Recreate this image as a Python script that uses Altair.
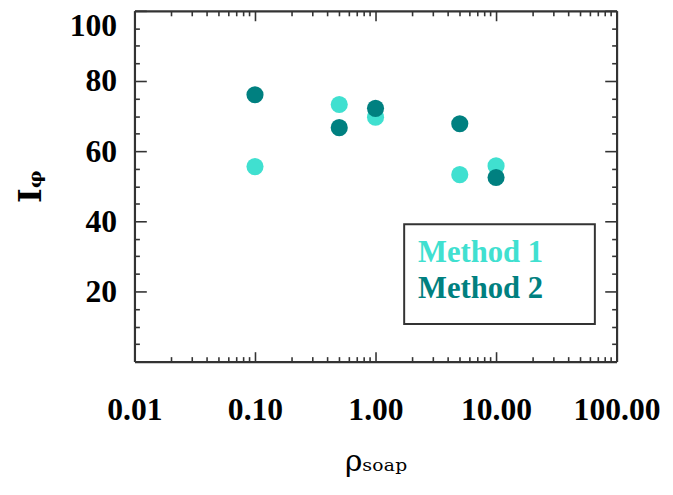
import altair as alt
import pandas as pd

# ---- data ----
rho = [0.1, 0.5, 1.0, 5.0, 10.0]
method1 = [55.6, 73.3, 69.7, 53.3, 55.8]
method2 = [76.1, 66.7, 72.2, 67.8, 52.5]
series = ["Method 1", "Method 2"]
colors = ["#40E0D0", "#008080"]

x_major = [0.01, 0.1, 1, 10, 100]
x_minor = [0.02, 0.03, 0.04, 0.05, 0.06, 0.07, 0.08, 0.09,
           0.2, 0.3, 0.4, 0.5, 0.6, 0.7, 0.8, 0.9,
           2, 3, 4, 5, 6, 7, 8, 9,
           20, 30, 40, 50, 60, 70, 80, 90]
y_major = [20, 40, 60, 80, 100]
y_minor = [5, 10, 15, 25, 30, 35, 45, 50, 55, 65, 70, 75, 85, 90, 95]

rows = []
for r, v in zip(rho, method1):
    rows.append({"rho": r, "I": v, "method": series[0]})
for r, v in zip(rho, method2):
    rows.append({"rho": r, "I": v, "method": series[1]})
df = pd.DataFrame(rows)

W, H = 488, 355
FONT = "Liberation Serif"
xs = alt.Scale(type="log", domain=[0.01, 100])
ys = alt.Scale(domain=[0, 100], nice=False, zero=False)
cs = alt.Scale(domain=series, range=colors)


def tick_axis(orient, offset, values, size, domain):
    return alt.Axis(orient=orient, offset=offset, values=values, tickSize=size,
                    labels=False, domain=domain, domainColor="#333", domainWidth=2.2,
                    grid=False, title=None, tickColor="#333", tickWidth=1.6)


def tick_layer(xa, ya):
    return alt.Chart(df).mark_point(opacity=0).encode(
        x=alt.X("rho:Q", scale=xs, axis=xa),
        y=alt.Y("I:Q", scale=ys, axis=ya),
    )


x_label_axis = alt.Axis(orient="bottom", values=x_major, format=".2f", ticks=False,
                        domain=False, grid=False, labelFont=FONT, labelFontSize=32,
                        labelFontWeight="bold", labelColor="black", labelPadding=34,
                        labelFlush=False, labelOverlap=False,
                        title="ρₛₒₐₚ", titleFont="DejaVu Serif", titleFontSize=30,
                        titleFontWeight="normal", titleColor="black", titlePadding=21)
y_label_axis = alt.Axis(orient="left", values=y_major, format="d", ticks=False,
                        domain=False, grid=False, labelFont=FONT, labelFontSize=32,
                        labelFontWeight="bold", labelColor="black", labelPadding=18,
                        labelFlush=True, labelOverlap=False,
                        title="Iᵩ", titleFont="DejaVu Serif", titleFontSize=32,
                        titleFontWeight="bold", titleColor="black", titlePadding=22)

points = alt.Chart(df).mark_point(filled=True, size=300, opacity=1, shape="circle").encode(
    x=alt.X("rho:Q", scale=xs, axis=x_label_axis),
    y=alt.Y("I:Q", scale=ys, axis=y_label_axis),
    color=alt.Color("method:N", scale=cs, legend=None),
)

# legend box drawn as a rectangle with coloured labels
legend_box = alt.Chart(pd.DataFrame({"k": [0]})).mark_rect(
    fill="white", stroke="#333", strokeWidth=2
).encode(x=alt.value(273), x2=alt.value(466), y=alt.value(216), y2=alt.value(317))

legend_texts = []
for i, s in enumerate(series):
    legend_texts.append(
        alt.Chart(pd.DataFrame({"method": [s]})).mark_text(
            align="left", baseline="middle", font=FONT, fontSize=31, fontWeight="bold"
        ).encode(
            x=alt.value(287), y=alt.value(245 + 37 * i),
            text="method:N",
            color=alt.Color("method:N", scale=cs, legend=None),
        )
    )

layers = [
    tick_layer(tick_axis("top", -H, x_major, 10, True), tick_axis("right", -W, y_major, 12, True)),
    tick_layer(tick_axis("top", -H, x_minor, 5, False), tick_axis("right", -W, y_minor, 5, False)),
    tick_layer(tick_axis("bottom", -H, x_major, 10, True), tick_axis("left", -W, y_major, 12, True)),
    tick_layer(tick_axis("bottom", -H, x_minor, 5, False), tick_axis("left", -W, y_minor, 5, False)),
    points,
    legend_box,
    *legend_texts,
]

chart = alt.layer(*layers).resolve_axis(x="independent", y="independent").properties(
    width=W, height=H,
    padding={"left": 128, "top": 0, "right": 49, "bottom": 120},
    autosize=alt.AutoSizeParams(type="none"),
).configure_view(stroke="#333", strokeWidth=2).configure(background="white")

chart.save("out.html", embed_options={"renderer": "svg", "actions": False})
